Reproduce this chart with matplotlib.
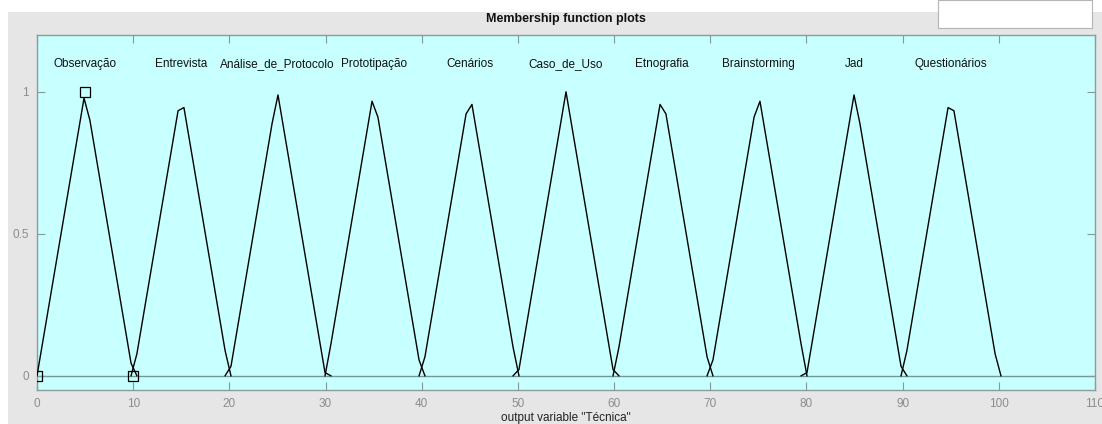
import numpy as np
import matplotlib
matplotlib.use("Agg")
import matplotlib.pyplot as plt
from matplotlib.patches import Rectangle

# Output variable "Técnica": triangular membership functions (a, b, c)
mf_names = ["Observação", "Entrevista", "Análise_de_Protocolo", "Prototipação",
            "Cenários", "Caso_de_Uso", "Etnografia", "Brainstorming", "Jad",
            "Questionários"]
mf_a = [0, 10, 20, 30, 40, 50, 60, 70, 80, 90]
mf_b = [5, 15, 25, 35, 45, 55, 65, 75, 85, 95]
mf_c = [10, 20, 30, 40, 50, 60, 70, 80, 90, 100]
var_range = [0, 110]
n_points = 181
x_ticks = [0, 10, 20, 30, 40, 50, 60, 70, 80, 90, 100, 110]
y_ticks = [0, 0.5, 1]
y_tick_labels = ["0", "0.5", "1"]

plt.rcParams["font.family"] = ["Liberation Sans", "DejaVu Sans"]

fig = plt.figure(figsize=(11.02, 4.24), dpi=100, facecolor="white")

# grey window panel and white box in the corner
fig.patches.append(Rectangle((8 / 1102, 0), 1 - 8 / 1102, 1 - 12 / 424,
                             transform=fig.transFigure, facecolor="#e6e6e6",
                             edgecolor="none", zorder=-10))
fig.patches.append(Rectangle((938 / 1102, 1 - 28 / 424), 154 / 1102, 28 / 424,
                             transform=fig.transFigure, facecolor="white",
                             edgecolor="#b4b4b4", linewidth=0.8, zorder=-5))

ax = fig.add_axes([37 / 1102, 1 - 390 / 424, (1095 - 37) / 1102, (390 - 35) / 424])
ax.set_zorder(5)
ax.set_facecolor("#c8ffff")

x = np.linspace(var_range[0], var_range[1], n_points)


def trimf(xv, a, b, c):
    left = (xv - a) / (b - a)
    right = (c - xv) / (c - b)
    return np.clip(np.minimum(left, right), 0, 1)


ax.axhline(0, color="#6f9a9a", linewidth=1.0, zorder=1)

for name, a, b, c in zip(mf_names, mf_a, mf_b, mf_c):
    y = trimf(x, a, b, c)
    idx = np.nonzero(y > 0)[0]
    lo = max(idx[0] - 1, 0)
    hi = min(idx[-1] + 1, len(x) - 1)
    ax.plot(x[lo:hi + 1], y[lo:hi + 1], color="black", linewidth=1.0, zorder=3)
    ax.text(b, 1.087, name, ha="center", va="baseline", fontsize=8.5, color="#111111")

# selected function's parameter markers
sel = 0
ax.plot([mf_a[sel], mf_b[sel], mf_c[sel]], [0, 1, 0], linestyle="none",
        marker="s", markersize=7, markerfacecolor="none",
        markeredgecolor="black", markeredgewidth=0.9, zorder=4)

ax.set_xlim(var_range)
ax.set_ylim(-0.05, 1.2)
ax.set_xticks(x_ticks)
ax.set_yticks(y_ticks)
ax.set_yticklabels(y_tick_labels)
ax.tick_params(direction="in", length=6, width=0.8, color="#7f9a9a",
               labelcolor="#8c8c8c", labelsize=8.5, top=True, right=True, pad=6)
for sp in ax.spines.values():
    sp.set_color("#8a9c9c")
    sp.set_linewidth(1.0)

ax.set_xlabel('output variable "Técnica"', fontsize=8.5, color="#222222", labelpad=1)
fig.text(566 / 1102, 1 - 19 / 424, "Membership function plots", ha="center",
         va="center", fontsize=9, fontweight="bold", color="#111111")

fig.savefig("out.png", dpi=100, facecolor=fig.get_facecolor())
